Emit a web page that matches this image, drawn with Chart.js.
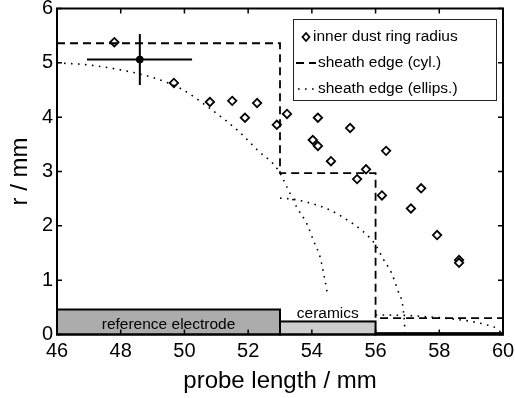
<!DOCTYPE html>
<html>
<head>
<meta charset="utf-8">
<script src="https://cdn.jsdelivr.net/npm/chart.js@4.4.1/dist/chart.umd.min.js"></script>
<style>
  html, body { margin: 0; padding: 0; background: #fff; }
  canvas { display: block; }
</style>
</head>
<body>
<canvas id="chart" width="515" height="398"></canvas>
<script>
// ---- data ----
const xTicks = [46, 48, 50, 52, 54, 56, 58, 60];
const yTicks = [0, 1, 2, 3, 4, 5, 6];

// inner dust ring radius (diamonds)
const dustX = [47.8, 49.67, 50.8, 51.5, 51.9, 52.28, 52.9, 53.22, 54.19, 54.03, 54.19,
               55.2, 54.6, 55.7, 55.42, 56.33, 56.2, 57.43, 57.11, 57.93, 58.62, 58.62];
const dustY = [5.38, 4.63, 4.28, 4.30, 3.99, 4.26, 3.86, 4.06, 3.99, 3.58, 3.47,
               3.80, 3.19, 3.04, 2.86, 3.38, 2.56, 2.69, 2.32, 1.83, 1.37, 1.32];

// averaged point with error bars
const meanX = [48.6];
const meanY = [5.06];
const meanXRange = [46.94, 50.24];
const meanYRange = [4.59, 5.53];

// sheath edge (cyl.)
const cylX = [46, 53, 53, 56, 56, 60];
const cylY = [5.36, 5.36, 2.97, 2.97, 0.30, 0.30];

// sheath edge (ellips.), three pieces
const ell1X = [46, 47, 48, 49, 49.9, 50.8, 51.7, 52.3, 52.94, 53.22, 53.53, 53.85, 54.05, 54.26, 54.41, 54.5];
const ell1Y = [5.0, 4.96, 4.87, 4.73, 4.52, 4.16, 3.74, 3.39, 3.03, 2.71, 2.34, 2.03, 1.73, 1.42, 1.0, 0.72];
const ell2X = [53, 53.4, 53.94, 54.57, 55.13, 55.6, 56.0, 56.23, 56.5, 56.7, 56.86, 56.92, 56.93];
const ell2Y = [2.51, 2.49, 2.42, 2.29, 2.1, 1.9, 1.65, 1.4, 1.13, 0.81, 0.5, 0.1, 0];
const ell3X = [56, 56.5, 57, 57.5, 58, 58.5, 58.9, 59.4, 59.8, 60];
const ell3Y = [0.36, 0.357, 0.35, 0.33, 0.31, 0.28, 0.25, 0.19, 0.11, 0];

// probe parts drawn as boxes at the bottom
const partNames = ['reference electrode', 'ceramics', ''];
const partStart = [46, 53, 56];
const partEnd = [53, 56, 60];
const partTop = [0.46, 0.24, 0.025];
const partColors = ['#acacac', '#cdcdcd', '#000000'];
const partLabelY = [0.18, 0.39, 0];

const legendLabels = ['inner dust ring radius', 'sheath edge (cyl.)', 'sheath edge (ellips.)'];

const FONT = '"Liberation Sans", Arial, Helvetica, sans-serif';
const dotted = [1.6, 5.4];

function pts(xs, ys) {
    return xs.map((x, i) => ({ x: x, y: ys[i] }));
}

// ---- custom drawing: probe boxes, inward ticks, frame, legend ----
const figurePlugin = {
    id: 'figure',
    beforeDatasetsDraw(chart) {
        const { ctx, scales: { x, y } } = chart;
        ctx.save();
        partStart.forEach((s, i) => {
            const x0 = x.getPixelForValue(s);
            const x1 = x.getPixelForValue(partEnd[i]);
            const y0 = y.getPixelForValue(0);
            const y1 = y.getPixelForValue(partTop[i]);
            ctx.fillStyle = partColors[i];
            ctx.fillRect(x0, y1, x1 - x0, y0 - y1);
            ctx.strokeStyle = '#000';
            ctx.lineWidth = 2;
            ctx.strokeRect(x0, y1, x1 - x0, y0 - y1);
            if (partNames[i]) {
                ctx.fillStyle = '#000';
                ctx.font = '15.5px ' + FONT;
                ctx.textAlign = 'center';
                ctx.textBaseline = 'middle';
                ctx.fillText(partNames[i], (x0 + x1) / 2, y.getPixelForValue(partLabelY[i]));
            }
        });
        ctx.restore();
    },
    afterDatasetsDraw(chart) {
        const { ctx, chartArea: a, scales: { x, y } } = chart;
        ctx.save();
        ctx.strokeStyle = '#000';
        ctx.lineWidth = 1.5;
        const tl = 5;
        ctx.beginPath();
        xTicks.forEach(v => {
            const px = x.getPixelForValue(v);
            ctx.moveTo(px, a.bottom); ctx.lineTo(px, a.bottom - tl);
            ctx.moveTo(px, a.top); ctx.lineTo(px, a.top + tl);
        });
        yTicks.forEach(v => {
            const py = y.getPixelForValue(v);
            ctx.moveTo(a.left, py); ctx.lineTo(a.left + tl, py);
            ctx.moveTo(a.right, py); ctx.lineTo(a.right - tl, py);
        });
        ctx.stroke();
        ctx.lineWidth = 2;
        ctx.strokeRect(a.left, a.top, a.right - a.left, a.bottom - a.top);

        // legend
        const lx = 293.5, ly = 19.5, lw = 203, lh = 81;
        ctx.fillStyle = '#fff';
        ctx.fillRect(lx, ly, lw, lh);
        ctx.lineWidth = 1;
        ctx.strokeStyle = '#222';
        ctx.strokeRect(lx, ly, lw, lh);
        ctx.font = '15.5px ' + FONT;
        ctx.fillStyle = '#000';
        ctx.textAlign = 'left';
        ctx.textBaseline = 'middle';
        const rows = [37, 63, 89];
        // diamond
        ctx.lineWidth = 1.8;
        ctx.strokeStyle = '#000';
        ctx.beginPath();
        ctx.moveTo(306, rows[0] - 4); ctx.lineTo(309.5, rows[0]);
        ctx.lineTo(306, rows[0] + 4); ctx.lineTo(302.5, rows[0]);
        ctx.closePath();
        ctx.stroke();
        ctx.fillText(legendLabels[0], 313, rows[0]);
        // dashed
        ctx.setLineDash([8, 5]);
        ctx.beginPath();
        ctx.moveTo(296, rows[1]); ctx.lineTo(316, rows[1]);
        ctx.stroke();
        ctx.fillText(legendLabels[1], 318, rows[1]);
        // dotted
        ctx.setLineDash(dotted);
        ctx.lineWidth = 1.6;
        ctx.beginPath();
        ctx.moveTo(298, rows[2]); ctx.lineTo(316, rows[2]);
        ctx.stroke();
        ctx.setLineDash([]);
        ctx.fillText(legendLabels[2], 318, rows[2]);
        ctx.restore();
    }
};

const ctx = document.getElementById('chart').getContext('2d');
new Chart(ctx, {
    type: 'scatter',
    data: {
        datasets: [
            {
                label: 'ellips 1',
                data: pts(ell1X, ell1Y),
                showLine: true,
                borderColor: '#000',
                borderWidth: 1.6,
                borderDash: dotted,
                cubicInterpolationMode: 'monotone',
                pointRadius: 0
            },
            {
                label: 'ellips 2',
                data: pts(ell2X, ell2Y),
                showLine: true,
                borderColor: '#000',
                borderWidth: 1.6,
                borderDash: dotted,
                cubicInterpolationMode: 'monotone',
                pointRadius: 0
            },
            {
                label: 'ellips 3',
                data: pts(ell3X, ell3Y),
                showLine: true,
                borderColor: '#000',
                borderWidth: 1.6,
                borderDash: dotted,
                cubicInterpolationMode: 'monotone',
                pointRadius: 0
            },
            {
                label: 'cyl',
                data: pts(cylX, cylY),
                showLine: true,
                borderColor: '#000',
                borderWidth: 1.8,
                borderDash: [8, 5],
                pointRadius: 0
            },
            {
                label: 'x error',
                data: pts(meanXRange, [meanY[0], meanY[0]]),
                showLine: true,
                borderColor: '#000',
                borderWidth: 2,
                pointRadius: 0
            },
            {
                label: 'y error',
                data: pts([meanX[0], meanX[0]], meanYRange),
                showLine: true,
                borderColor: '#000',
                borderWidth: 2,
                pointRadius: 0
            },
            {
                label: 'mean',
                data: pts(meanX, meanY),
                pointStyle: 'circle',
                pointRadius: 3.5,
                backgroundColor: '#000',
                borderColor: '#000'
            },
            {
                label: 'inner dust ring radius',
                data: pts(dustX, dustY),
                pointStyle: 'rectRot',
                pointRadius: 4.2,
                borderWidth: 1.8,
                borderColor: '#000',
                backgroundColor: '#fff'
            }
        ]
    },
    options: {
        responsive: false,
        animation: false,
        devicePixelRatio: 1,
        layout: { padding: { left: 0, right: 12, top: 8.5, bottom: 0 } },
        plugins: { legend: { display: false }, tooltip: { enabled: false } },
        scales: {
            x: {
                type: 'linear',
                min: 46,
                max: 60,
                afterBuildTicks: s => { s.ticks = xTicks.map(v => ({ value: v })); },
                afterFit: s => { s.height = 63.5; s.paddingLeft = 0; s.paddingRight = 0; },
                grid: { display: false, drawTicks: false },
                border: { display: false },
                ticks: { color: '#000', padding: 5, font: { family: FONT, size: 20 }, maxRotation: 0 },
                title: {
                    display: true, text: 'probe length / mm', color: '#000',
                    font: { family: FONT, size: 24 }, padding: { top: 0, bottom: 2 }
                }
            },
            y: {
                type: 'linear',
                min: 0,
                max: 6,
                afterBuildTicks: s => { s.ticks = yTicks.map(v => ({ value: v })); },
                afterFit: s => { s.width = 57; s.paddingTop = 0; s.paddingBottom = 0; },
                grid: { display: false, drawTicks: false },
                border: { display: false },
                ticks: { color: '#000', padding: 4, font: { family: FONT, size: 20 } },
                title: {
                    display: true, text: 'r / mm', color: '#000',
                    font: { family: FONT, size: 24 }, padding: { top: 5.5, bottom: 0 }
                }
            }
        }
    },
    plugins: [figurePlugin]
});
</script>
</body>
</html>
